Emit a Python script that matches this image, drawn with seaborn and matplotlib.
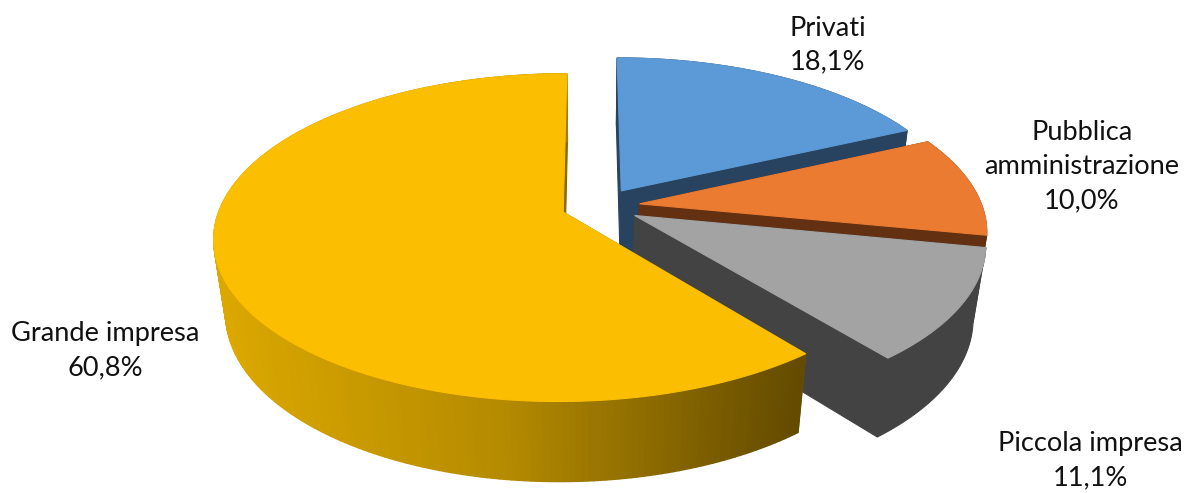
import numpy as np
import matplotlib
matplotlib.use("Agg")
import matplotlib.pyplot as plt
import seaborn as sns

# Share of each customer segment, clockwise from twelve o'clock
segments = ["Privati", "Pubblica\namministrazione", "Piccola impresa", "Grande impresa"]
shares = [18.1, 10.0, 11.1, 60.8]
share_labels = ["18,1%", "10,0%", "11,1%", "60,8%"]

top_colors = ["#5B9AD6", "#EB7B31", "#A3A3A3", "#FBBE00"]
side_colors = ["#27435F", "#633112", "#434343", "#8A6A00"]

# Pie geometry and camera, in pixels of the 1186x493 canvas
CX, CY = 600.5, 206.0
VANISH_X = 590.0
RX, RY = 342.5, 158.0
DEPTH = 76.0
EXPLODE = 0.115
TILT = 0.155
Z_SHRINK = 0.032
LABEL_POS = [(828, 45), (1082, 167), (1090, 461), (105, 351)]

sns.set_theme(style="white")
plt.rcParams["font.family"] = ["Lato", "DejaVu Sans"]


def project(u, v, z=0.0):
    """Perspective projection of disc coordinates (u right, v back, z down)."""
    w = 1 + TILT * np.asarray(v) + Z_SHRINK * z
    x = VANISH_X + (CX - VANISH_X + RX * np.asarray(u)) / w
    return x, CY + (-RY * np.asarray(v) + DEPTH * z) / w


fig = plt.figure(figsize=(11.86, 4.93), dpi=100)
ax = fig.add_axes([0, 0, 1, 1])
ax.set_xlim(0, 1186)
ax.set_ylim(493, 0)
ax.axis("off")

edges = np.deg2rad(np.concatenate([[0], np.cumsum(shares)]) * 3.6)
for i, (start, end) in enumerate(zip(edges[:-1], edges[1:])):
    mid = (start + end) / 2
    ou, ov = EXPLODE * np.sin(mid), EXPLODE * np.cos(mid)
    theta = np.linspace(start, end, 240)
    ru, rv = ou + np.sin(theta), ov + np.cos(theta)

    # Straight cut faces, from the apex to each end of the arc
    for k in (0, -1):
        au, av = project([ou, ru[k]], [ov, rv[k]], 0.0)
        bu, bv = project([ru[k], ou], [rv[k], ov], 1.0)
        ax.fill(np.r_[au, bu], np.r_[av, bv], color=side_colors[i], lw=0.8, zorder=i * 3 + 1)

    # Outer wall; the large slice darkens from left to right
    xt, yt = project(ru, rv, 0.0)
    xb, yb = project(ru, rv, 1.0)
    if i == 3:
        ramp = sns.blend_palette(["#DCA800", "#B48A00", "#644B00"], 256)
        for j in range(len(theta) - 1):
            t = np.clip((xt[j] - 215) / (800 - 215), 0, 1)
            ax.fill([xt[j], xt[j + 1], xb[j + 1], xb[j]],
                    [yt[j], yt[j + 1], yb[j + 1], yb[j]],
                    color=ramp[int(t * 255)], lw=1.0, zorder=i * 3 + 2)
    else:
        ax.fill(np.r_[xt, xb[::-1]], np.r_[yt, yb[::-1]],
                color=side_colors[i], lw=0.8, zorder=i * 3 + 2)

    # Top face
    ax0, ay0 = project(ou, ov, 0.0)
    ax.fill(np.r_[ax0, xt], np.r_[ay0, yt], color=top_colors[i], lw=0.8, zorder=i * 3 + 3)

for name, value, (lx, ly) in zip(segments, share_labels, LABEL_POS):
    ax.text(lx, ly, f"{name}\n{value}", ha="center", va="center", fontsize=19.6,
            color="#111111", linespacing=1.45, zorder=20)

fig.savefig("out.png", dpi=100, facecolor="white")
